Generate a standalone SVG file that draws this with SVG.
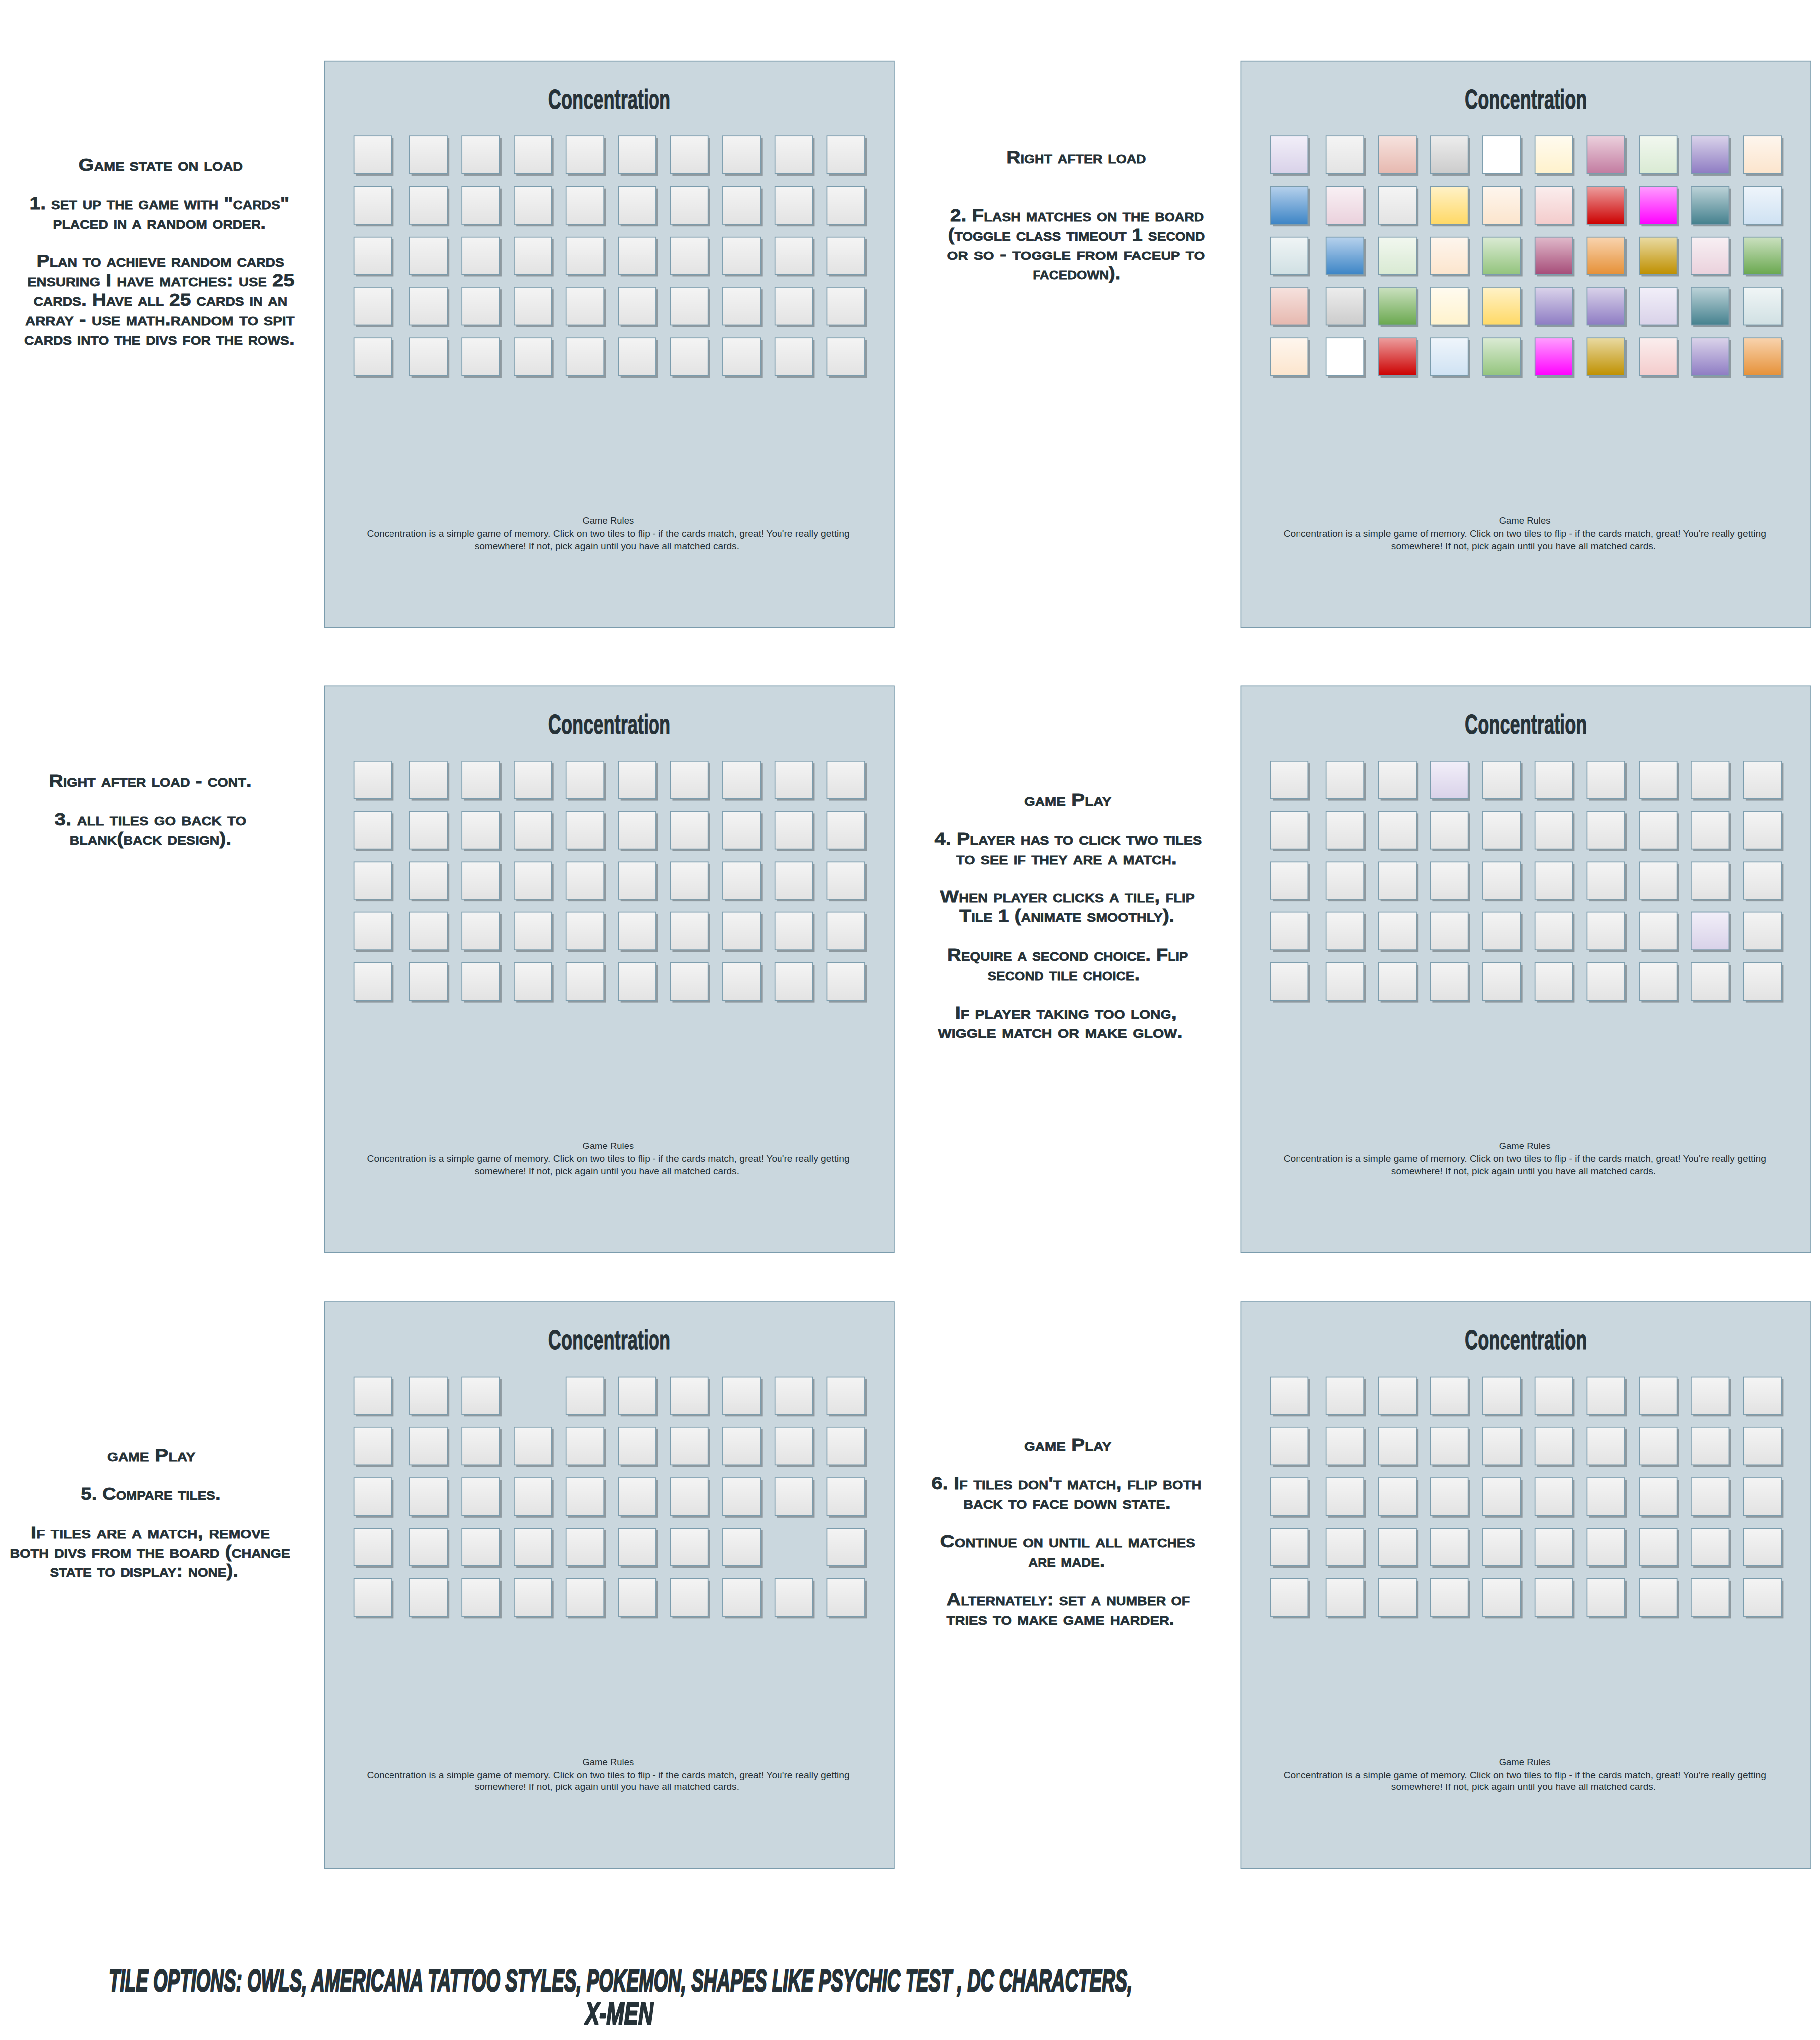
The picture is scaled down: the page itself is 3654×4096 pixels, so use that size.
<svg xmlns="http://www.w3.org/2000/svg" width="3654" height="4096" viewBox="0 0 3654 4096">
<style>
.pn{fill:#cad7de;stroke:#7b9cad;stroke-width:1.8}
.sh{fill:#8e999f}
.tf{stroke:#7b9cad;stroke-width:1.8}
.ttl{font-family:"Liberation Sans",Arial,sans-serif;font-weight:bold;font-size:59px;fill:#263238;stroke:#263238;stroke-width:1.2;text-anchor:middle}
.rh{font-family:"Liberation Sans",Arial,sans-serif;font-size:18.6px;fill:#263238;text-anchor:middle}
.an{font-family:"Liberation Sans",Arial,sans-serif;font-weight:bold;font-variant:small-caps;font-size:37px;fill:#263238;stroke:#263238;stroke-width:0.8}
.bt{font-family:"Liberation Sans",Arial,sans-serif;font-weight:bold;font-style:italic;font-size:66px;fill:#263238;stroke:#263238;stroke-width:3;stroke-linejoin:round}
</style>
<defs>
<linearGradient id="gb" x1="0" y1="0" x2="0" y2="1"><stop offset="0" stop-color="#f4f4f4"/><stop offset="1" stop-color="#e3e3e3"/></linearGradient>
<linearGradient id="lav" x1="0" y1="0" x2="0" y2="1"><stop offset="0" stop-color="#f2eff9"/><stop offset="1" stop-color="#d9d2e9"/></linearGradient>
<linearGradient id="sal" x1="0" y1="0" x2="0" y2="1"><stop offset="0" stop-color="#f6e2de"/><stop offset="1" stop-color="#e6b8af"/></linearGradient>
<linearGradient id="g2" x1="0" y1="0" x2="0" y2="1"><stop offset="0" stop-color="#ededed"/><stop offset="1" stop-color="#cccccc"/></linearGradient>
<linearGradient id="wht" x1="0" y1="0" x2="0" y2="1"><stop offset="0" stop-color="#ffffff"/><stop offset="1" stop-color="#ffffff"/></linearGradient>
<linearGradient id="crm" x1="0" y1="0" x2="0" y2="1"><stop offset="0" stop-color="#fffbf0"/><stop offset="1" stop-color="#fff2cc"/></linearGradient>
<linearGradient id="mve" x1="0" y1="0" x2="0" y2="1"><stop offset="0" stop-color="#ebd0dc"/><stop offset="1" stop-color="#c27ba0"/></linearGradient>
<linearGradient id="mnt" x1="0" y1="0" x2="0" y2="1"><stop offset="0" stop-color="#f1f7ef"/><stop offset="1" stop-color="#d9ead3"/></linearGradient>
<linearGradient id="pur" x1="0" y1="0" x2="0" y2="1"><stop offset="0" stop-color="#dad3ea"/><stop offset="1" stop-color="#8e7cc3"/></linearGradient>
<linearGradient id="pch" x1="0" y1="0" x2="0" y2="1"><stop offset="0" stop-color="#fef6ee"/><stop offset="1" stop-color="#fce5cd"/></linearGradient>
<linearGradient id="blu" x1="0" y1="0" x2="0" y2="1"><stop offset="0" stop-color="#b6d1ec"/><stop offset="1" stop-color="#3d85c6"/></linearGradient>
<linearGradient id="lpk" x1="0" y1="0" x2="0" y2="1"><stop offset="0" stop-color="#f8f0f4"/><stop offset="1" stop-color="#ead1dc"/></linearGradient>
<linearGradient id="yel" x1="0" y1="0" x2="0" y2="1"><stop offset="0" stop-color="#fff2c8"/><stop offset="1" stop-color="#ffd966"/></linearGradient>
<linearGradient id="pnk" x1="0" y1="0" x2="0" y2="1"><stop offset="0" stop-color="#fbeeee"/><stop offset="1" stop-color="#f4cccc"/></linearGradient>
<linearGradient id="red" x1="0" y1="0" x2="0" y2="1"><stop offset="0" stop-color="#ec9e9e"/><stop offset="1" stop-color="#cc0000"/></linearGradient>
<linearGradient id="mag" x1="0" y1="0" x2="0" y2="1"><stop offset="0" stop-color="#ff9eff"/><stop offset="1" stop-color="#ff00ff"/></linearGradient>
<linearGradient id="tea" x1="0" y1="0" x2="0" y2="1"><stop offset="0" stop-color="#bdd3d8"/><stop offset="1" stop-color="#45818e"/></linearGradient>
<linearGradient id="lbl" x1="0" y1="0" x2="0" y2="1"><stop offset="0" stop-color="#eff5fb"/><stop offset="1" stop-color="#cfe2f3"/></linearGradient>
<linearGradient id="ltg" x1="0" y1="0" x2="0" y2="1"><stop offset="0" stop-color="#f0f5f6"/><stop offset="1" stop-color="#d0e0e3"/></linearGradient>
<linearGradient id="grn" x1="0" y1="0" x2="0" y2="1"><stop offset="0" stop-color="#dbebd4"/><stop offset="1" stop-color="#93c47d"/></linearGradient>
<linearGradient id="plm" x1="0" y1="0" x2="0" y2="1"><stop offset="0" stop-color="#e0b9ca"/><stop offset="1" stop-color="#a64d79"/></linearGradient>
<linearGradient id="org" x1="0" y1="0" x2="0" y2="1"><stop offset="0" stop-color="#f8d3ae"/><stop offset="1" stop-color="#e69138"/></linearGradient>
<linearGradient id="gld" x1="0" y1="0" x2="0" y2="1"><stop offset="0" stop-color="#e9daa2"/><stop offset="1" stop-color="#bf9000"/></linearGradient>
<linearGradient id="dgr" x1="0" y1="0" x2="0" y2="1"><stop offset="0" stop-color="#cbe1c0"/><stop offset="1" stop-color="#6aa84f"/></linearGradient>
<g id="tb"><rect class="sh" x="4.5" y="4.5" width="80" height="80"/><rect class="tf" width="80" height="80" fill="url(#gb)"/></g>
<g id="tc"><rect class="sh" x="4.5" y="4.5" width="80" height="80"/><rect class="tf" width="80" height="80"/></g>
<g id="rb">
<use href="#tb" x="63"/><use href="#tb" x="181.5"/><use href="#tb" x="292.5"/><use href="#tb" x="403.5"/><use href="#tb" x="514.5"/><use href="#tb" x="625.5"/><use href="#tb" x="736.5"/><use href="#tb" x="847.5"/><use href="#tb" x="958.5"/><use href="#tb" x="1069.5"/>
</g>
<g id="gridb">
<use href="#rb" y="159.5"/><use href="#rb" y="266.8"/><use href="#rb" y="374.1"/><use href="#rb" y="481.4"/><use href="#rb" y="588.7"/>
</g>
<g id="frame">
<rect class="pn" x="0" y="0" width="1212" height="1205"/>
<text class="ttl" x="606.5" y="101" textLength="260" lengthAdjust="spacingAndGlyphs">Concentration</text>
<text class="rh" x="603.7" y="985" textLength="109" lengthAdjust="spacingAndGlyphs">Game Rules</text>
<text class="rh" x="604" y="1012.7" textLength="1027" lengthAdjust="spacingAndGlyphs">Concentration is a simple game of memory. Click on two tiles to flip - if the cards match, great! You're really getting</text>
<text class="rh" x="601" y="1038.7" textLength="563" lengthAdjust="spacingAndGlyphs">somewhere! If not, pick again until you have all matched cards.</text>
</g>
</defs>
<rect width="3654" height="4096" fill="#ffffff"/>
<g transform="scale(0.9437)">

<g id="panel-1" transform="translate(690,130)">
<use href="#frame"/>
<use href="#gridb"/>
</g>

<g id="panel-2" transform="translate(2640,130)">
<use href="#frame"/>
<use href="#tc" x="63" y="159.5" fill="url(#lav)"/><use href="#tc" x="181.5" y="159.5" fill="url(#gb)"/><use href="#tc" x="292.5" y="159.5" fill="url(#sal)"/><use href="#tc" x="403.5" y="159.5" fill="url(#g2)"/><use href="#tc" x="514.5" y="159.5" fill="url(#wht)"/><use href="#tc" x="625.5" y="159.5" fill="url(#crm)"/><use href="#tc" x="736.5" y="159.5" fill="url(#mve)"/><use href="#tc" x="847.5" y="159.5" fill="url(#mnt)"/><use href="#tc" x="958.5" y="159.5" fill="url(#pur)"/><use href="#tc" x="1069.5" y="159.5" fill="url(#pch)"/>
<use href="#tc" x="63" y="266.8" fill="url(#blu)"/><use href="#tc" x="181.5" y="266.8" fill="url(#lpk)"/><use href="#tc" x="292.5" y="266.8" fill="url(#gb)"/><use href="#tc" x="403.5" y="266.8" fill="url(#yel)"/><use href="#tc" x="514.5" y="266.8" fill="url(#pch)"/><use href="#tc" x="625.5" y="266.8" fill="url(#pnk)"/><use href="#tc" x="736.5" y="266.8" fill="url(#red)"/><use href="#tc" x="847.5" y="266.8" fill="url(#mag)"/><use href="#tc" x="958.5" y="266.8" fill="url(#tea)"/><use href="#tc" x="1069.5" y="266.8" fill="url(#lbl)"/>
<use href="#tc" x="63" y="374.1" fill="url(#ltg)"/><use href="#tc" x="181.5" y="374.1" fill="url(#blu)"/><use href="#tc" x="292.5" y="374.1" fill="url(#mnt)"/><use href="#tc" x="403.5" y="374.1" fill="url(#pch)"/><use href="#tc" x="514.5" y="374.1" fill="url(#grn)"/><use href="#tc" x="625.5" y="374.1" fill="url(#plm)"/><use href="#tc" x="736.5" y="374.1" fill="url(#org)"/><use href="#tc" x="847.5" y="374.1" fill="url(#gld)"/><use href="#tc" x="958.5" y="374.1" fill="url(#lpk)"/><use href="#tc" x="1069.5" y="374.1" fill="url(#dgr)"/>
<use href="#tc" x="63" y="481.4" fill="url(#sal)"/><use href="#tc" x="181.5" y="481.4" fill="url(#g2)"/><use href="#tc" x="292.5" y="481.4" fill="url(#dgr)"/><use href="#tc" x="403.5" y="481.4" fill="url(#crm)"/><use href="#tc" x="514.5" y="481.4" fill="url(#yel)"/><use href="#tc" x="625.5" y="481.4" fill="url(#pur)"/><use href="#tc" x="736.5" y="481.4" fill="url(#pur)"/><use href="#tc" x="847.5" y="481.4" fill="url(#lav)"/><use href="#tc" x="958.5" y="481.4" fill="url(#tea)"/><use href="#tc" x="1069.5" y="481.4" fill="url(#ltg)"/>
<use href="#tc" x="63" y="588.7" fill="url(#pch)"/><use href="#tc" x="181.5" y="588.7" fill="url(#wht)"/><use href="#tc" x="292.5" y="588.7" fill="url(#red)"/><use href="#tc" x="403.5" y="588.7" fill="url(#lbl)"/><use href="#tc" x="514.5" y="588.7" fill="url(#grn)"/><use href="#tc" x="625.5" y="588.7" fill="url(#mag)"/><use href="#tc" x="736.5" y="588.7" fill="url(#gld)"/><use href="#tc" x="847.5" y="588.7" fill="url(#pnk)"/><use href="#tc" x="958.5" y="588.7" fill="url(#pur)"/><use href="#tc" x="1069.5" y="588.7" fill="url(#org)"/>
</g>

<g id="panel-3" transform="translate(690,1459.5)">
<use href="#frame"/>
<use href="#gridb"/>
</g>

<g id="panel-4" transform="translate(2640,1459.5)">
<use href="#frame"/>
<use href="#gridb"/>
<use href="#tc" x="403.5" y="159.5" fill="url(#lav)"/>
<use href="#tc" x="958.5" y="481.4" fill="url(#lav)"/>
</g>

<g id="panel-5" transform="translate(690,2770)">
<use href="#frame"/>
<use href="#tb" x="63" y="159.5"/><use href="#tb" x="181.5" y="159.5"/><use href="#tb" x="292.5" y="159.5"/><use href="#tb" x="514.5" y="159.5"/><use href="#tb" x="625.5" y="159.5"/><use href="#tb" x="736.5" y="159.5"/><use href="#tb" x="847.5" y="159.5"/><use href="#tb" x="958.5" y="159.5"/><use href="#tb" x="1069.5" y="159.5"/>
<use href="#rb" y="266.8"/>
<use href="#rb" y="374.1"/>
<use href="#tb" x="63" y="481.4"/><use href="#tb" x="181.5" y="481.4"/><use href="#tb" x="292.5" y="481.4"/><use href="#tb" x="403.5" y="481.4"/><use href="#tb" x="514.5" y="481.4"/><use href="#tb" x="625.5" y="481.4"/><use href="#tb" x="736.5" y="481.4"/><use href="#tb" x="847.5" y="481.4"/><use href="#tb" x="1069.5" y="481.4"/>
<use href="#rb" y="588.7"/>
</g>

<g id="panel-6" transform="translate(2640,2770)">
<use href="#frame"/>
<use href="#gridb"/>
</g>

<g id="note-1">
<text class="an" x="167" y="363" textLength="349" lengthAdjust="spacingAndGlyphs">Game state on load</text>
<text class="an" x="63" y="445.2" textLength="553" lengthAdjust="spacingAndGlyphs">1. set up the game with "cards"</text>
<text class="an" x="113" y="486.3" textLength="453" lengthAdjust="spacingAndGlyphs">placed in a random order.</text>
<text class="an" x="78" y="568.5" textLength="527" lengthAdjust="spacingAndGlyphs">Plan to achieve random cards</text>
<text class="an" x="58.5" y="609.6" textLength="568.5" lengthAdjust="spacingAndGlyphs">ensuring I have matches: use 25</text>
<text class="an" x="71.5" y="650.7" textLength="540" lengthAdjust="spacingAndGlyphs">cards. Have all 25 cards in an</text>
<text class="an" x="54" y="691.8" textLength="573" lengthAdjust="spacingAndGlyphs">array - use math.random to spit</text>
<text class="an" x="52" y="732.9" textLength="575" lengthAdjust="spacingAndGlyphs">cards into the divs for the rows.</text>
</g>

<g id="note-2">
<text class="an" x="2140.8" y="347.5" textLength="297" lengthAdjust="spacingAndGlyphs">Right after load</text>
<text class="an" x="2021.5" y="470.8" textLength="540" lengthAdjust="spacingAndGlyphs">2. Flash matches on the board</text>
<text class="an" x="2017" y="511.9" textLength="546.6" lengthAdjust="spacingAndGlyphs">(toggle class timeout 1 second</text>
<text class="an" x="2015" y="553" textLength="548.6" lengthAdjust="spacingAndGlyphs">or so - toggle from faceup to</text>
<text class="an" x="2197" y="594.1" textLength="186.6" lengthAdjust="spacingAndGlyphs">facedown).</text>
</g>

<g id="note-3">
<text class="an" x="104" y="1674" textLength="431" lengthAdjust="spacingAndGlyphs">Right after load - cont.</text>
<text class="an" x="116" y="1756.2" textLength="407.5" lengthAdjust="spacingAndGlyphs">3. all tiles go back to</text>
<text class="an" x="148" y="1797.3" textLength="344" lengthAdjust="spacingAndGlyphs">blank(back design).</text>
</g>

<g id="note-4">
<text class="an" x="2178.8" y="1715" textLength="185.7" lengthAdjust="spacingAndGlyphs">game Play</text>
<text class="an" x="1988.5" y="1797.2" textLength="568.8" lengthAdjust="spacingAndGlyphs">4. Player has to click two tiles</text>
<text class="an" x="2034.4" y="1838.3" textLength="469.4" lengthAdjust="spacingAndGlyphs">to see if they are a match.</text>
<text class="an" x="2000.2" y="1920.5" textLength="541.8" lengthAdjust="spacingAndGlyphs">When player clicks a tile, flip</text>
<text class="an" x="2041" y="1961.6" textLength="457.7" lengthAdjust="spacingAndGlyphs">Tile 1 (animate smoothly).</text>
<text class="an" x="2015.5" y="2043.8" textLength="512.3" lengthAdjust="spacingAndGlyphs">Require a second choice. Flip</text>
<text class="an" x="2100.7" y="2084.9" textLength="324" lengthAdjust="spacingAndGlyphs">second tile choice.</text>
<text class="an" x="2031.8" y="2167.1" textLength="472" lengthAdjust="spacingAndGlyphs">If player taking too long,</text>
<text class="an" x="1996" y="2208.2" textLength="520.5" lengthAdjust="spacingAndGlyphs">wiggle match or make glow.</text>
</g>

<g id="note-5">
<text class="an" x="227.8" y="3108.7" textLength="188" lengthAdjust="spacingAndGlyphs">game Play</text>
<text class="an" x="172" y="3190.9" textLength="297" lengthAdjust="spacingAndGlyphs">5. Compare tiles.</text>
<text class="an" x="65.4" y="3273.1" textLength="509" lengthAdjust="spacingAndGlyphs">If tiles are a match, remove</text>
<text class="an" x="21.8" y="3314.2" textLength="596" lengthAdjust="spacingAndGlyphs">both divs from the board (change</text>
<text class="an" x="106.6" y="3355.3" textLength="400" lengthAdjust="spacingAndGlyphs">state to display: none).</text>
</g>

<g id="note-6">
<text class="an" x="2178.8" y="3086.7" textLength="185.7" lengthAdjust="spacingAndGlyphs">game Play</text>
<text class="an" x="1981.8" y="3168.9" textLength="574.5" lengthAdjust="spacingAndGlyphs">6. If tiles don't match, flip both</text>
<text class="an" x="2049.7" y="3210" textLength="440.3" lengthAdjust="spacingAndGlyphs">back to face down state.</text>
<text class="an" x="2000.2" y="3292.2" textLength="542.9" lengthAdjust="spacingAndGlyphs">Continue on until all matches</text>
<text class="an" x="2187.4" y="3333.3" textLength="163.3" lengthAdjust="spacingAndGlyphs">are made.</text>
<text class="an" x="2014" y="3415.5" textLength="517.8" lengthAdjust="spacingAndGlyphs">Alternately: set a number of</text>
<text class="an" x="2014" y="3456.6" textLength="484.7" lengthAdjust="spacingAndGlyphs">tries to make game harder.</text>
</g>

<g id="tile-options">
<text class="bt" transform="translate(231,4236.7) scale(0.58,1)" x="0" y="0" textLength="3755" lengthAdjust="spacingAndGlyphs">TILE OPTIONS: OWLS, AMERICANA TATTOO STYLES, POKEMON, SHAPES LIKE PSYCHIC TEST , DC CHARACTERS,</text>
<text class="bt" transform="translate(1245,4306) scale(0.58,1)" x="0" y="0" textLength="250" lengthAdjust="spacingAndGlyphs">X-MEN</text>
</g>

</g>
</svg>
